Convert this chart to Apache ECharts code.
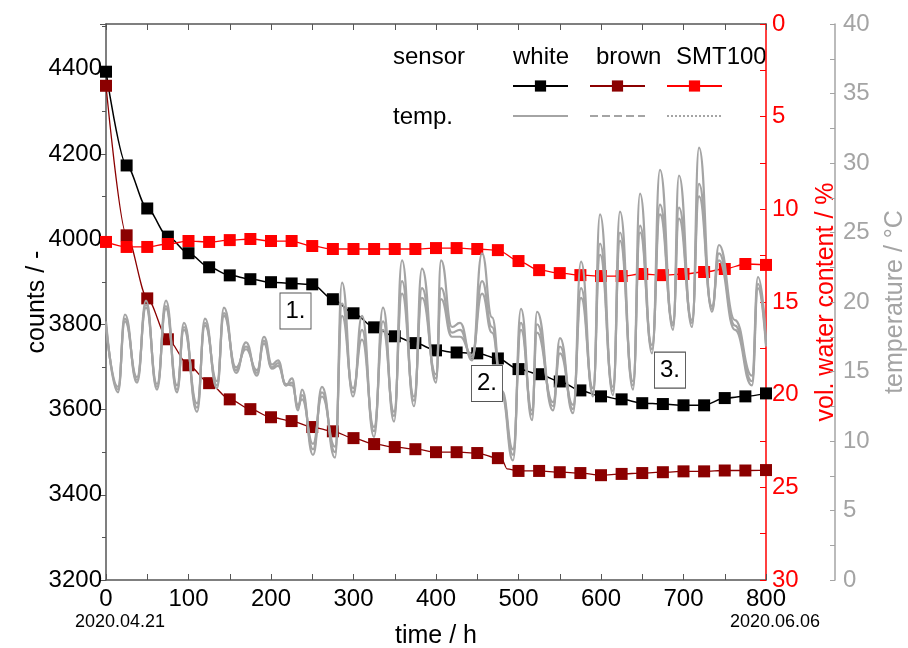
<!DOCTYPE html>
<html>
<head>
<meta charset="utf-8">
<title>sensor counts</title>
<script src="https://cdn.jsdelivr.net/npm/echarts@6/dist/echarts.min.js"></script>
<style>
  html, body { margin: 0; padding: 0; background: #fff; }
  #chart { width: 908px; height: 648px; }
</style>
</head>
<body>
<div id="chart"></div>
<script>
  // readings every 25 h (markers)
  const hours = [0, 25, 50, 75, 100, 125, 150, 175, 200, 225, 250, 275, 300, 325, 350, 375, 400,
                 425, 450, 475, 500, 525, 550, 575, 600, 625, 650, 675, 700, 725, 750, 775, 800];
  const whiteCounts = [4393, 4173, 4072, 4006, 3967, 3934, 3915, 3906, 3899, 3896, 3894, 3859, 3826,
                       3793, 3772, 3756, 3739, 3734, 3732, 3720, 3695, 3683, 3666, 3645, 3631, 3624,
                       3615, 3613, 3610, 3610, 3627, 3631, 3638];
  const brownCounts = [4360, 4009, 3861, 3765, 3704, 3662, 3624, 3601, 3582, 3573, 3559, 3549, 3533,
                       3519, 3512, 3507, 3500, 3500, 3498, 3486, 3456, 3456, 3453, 3451, 3446, 3449,
                       3451, 3453, 3455, 3455, 3457, 3457, 3458];
  const smtVwc = [11.76, 12.03, 12.03, 11.87, 11.71, 11.76, 11.66, 11.60, 11.71, 11.71, 11.98, 12.14,
                  12.14, 12.14, 12.14, 12.14, 12.09, 12.09, 12.14, 12.2, 12.79, 13.28, 13.44, 13.55,
                  13.6, 13.6, 13.49, 13.55, 13.49, 13.38, 13.22, 12.95, 13.0];
  // brown sensor step between markers
  const brownStepHours = [480, 486];
  const brownStepCounts = [3483, 3461];

  // temperature turning points
  const tempHours = [0, 14.5, 23, 37.6, 48.5, 61.8, 72.7, 86.1, 94.5, 110.3, 120, 134.5, 143, 157.6,
                     169.7, 183, 191.5, 201.2, 208.5, 218.2, 225.5, 232.7, 237.6, 250.9, 261.8, 277.6,
                     286.1, 299.4, 310.3, 324.8, 335.8, 349.1, 358.8, 373.3, 383, 400, 406.1, 419.4,
                     429.1, 443.6, 455.8, 467.9, 480, 493.3, 503, 516.4, 522.4, 541.8, 550.3, 566.1,
                     575.8, 590.3, 598.8, 614.5, 623, 638.8, 647.3, 661.8, 671.5, 687.3, 694.5, 710.3,
                     718.8, 734.5, 743, 762.4, 783, 790.3, 800];
  const tempWhite = [18.6, 13.5, 19.1, 14.2, 20.1, 13.7, 20.1, 13.5, 18.5, 12.1, 18.8, 13.8, 19.6, 14.9,
                     17.1, 14.7, 17.5, 15.5, 15.8, 14.0, 14.5, 12.2, 13.7, 9.0, 13.9, 8.8, 21.4, 13.2,
                     19.0, 10.3, 19.6, 11.4, 23.0, 12.5, 22.4, 14.2, 23.0, 18.2, 18.5, 15.8, 23.5, 18.9,
                     13.2, 8.6, 19.5, 11.5, 19.3, 12.2, 17.4, 12.0, 22.9, 13.2, 26.3, 13.3, 26.5, 13.7,
                     27.8, 16.3, 29.5, 18.0, 29.1, 18.2, 31.1, 19.3, 24.1, 18.7, 14.7, 21.8, 17.3];
  const tempBrown = [18.4, 13.7, 18.8, 14.4, 19.8, 13.9, 19.7, 13.7, 18.2, 12.4, 18.5, 14.0, 19.2, 15.1,
                     16.8, 14.9, 17.2, 15.3, 15.6, 14.0, 14.2, 12.4, 13.3, 9.4, 13.5, 9.2, 19.9, 13.5,
                     18.0, 10.7, 18.6, 11.8, 21.5, 12.9, 21.0, 14.5, 21.0, 17.8, 18.0, 16.0, 21.5, 18.2,
                     13.4, 9.0, 18.5, 11.9, 18.4, 12.5, 16.8, 12.3, 21.0, 13.5, 24.2, 13.6, 25.0, 14.0,
                     25.5, 16.6, 27.0, 18.3, 26.8, 18.5, 28.5, 19.5, 23.5, 18.3, 14.3, 21.3, 17.0];
  const tempSmt = [18.2, 13.9, 18.6, 14.6, 19.6, 14.1, 19.5, 14.0, 18.0, 12.7, 18.3, 14.3, 19.0, 15.3,
                   16.6, 15.1, 17.0, 15.2, 15.4, 14.1, 14.0, 12.6, 13.0, 9.8, 13.2, 9.6, 19.0, 13.8,
                   17.3, 11.0, 18.0, 12.1, 20.6, 13.2, 20.3, 14.8, 20.2, 17.5, 17.5, 16.2, 20.6, 17.8,
                   13.6, 9.4, 18.0, 12.2, 17.8, 12.8, 16.3, 12.6, 20.3, 13.8, 23.4, 13.9, 24.4, 14.3,
                   25.0, 16.9, 26.3, 18.5, 26.0, 18.7, 27.6, 19.7, 23.0, 18.0, 14.0, 21.0, 16.8];

  const dateLabels = ['2020.04.21', '2020.06.06'];
  const notes = ['1.', '2.', '3.'];

  const font = 'Liberation Sans, Arial, sans-serif';
  const axisGrey = '#555';
  const tempGrey = '#a4a4a4';

  function pairs(xs, ys) {
    return xs.map((t, i) => [t, ys[i]]);
  }

  const brownData = pairs(hours, brownCounts);
  brownStepHours.forEach((t, i) => {
    brownData.push({ value: [t, brownStepCounts[i]], symbol: 'none' });
  });
  brownData.sort((a, b) => (a.value || a)[0] - (b.value || b)[0]);

  const chart = echarts.init(document.getElementById('chart'));

  const option = {
    animation: false,
    backgroundColor: '#fff',
    textStyle: { fontFamily: font },
    grid: { left: 106, right: 142, top: 24, bottom: 68, outerBoundsMode: 'none', containLabel: false },
    legend: [
      {
        data: ['white', 'brown', 'SMT100'],
        left: 512, top: 79, padding: 0,
        itemWidth: 55, itemHeight: 14, itemGap: 20,
        selectedMode: false,
        formatter: () => ''
      },
      {
        data: [
          { name: 'white temp', lineStyle: { type: 'solid' }, itemStyle: { opacity: 0 } },
          { name: 'brown temp', lineStyle: { type: 'dashed' }, itemStyle: { opacity: 0 } },
          { name: 'SMT100 temp', lineStyle: { type: 'dotted' }, itemStyle: { opacity: 0 } }
        ],
        left: 512, top: 109, padding: 0,
        itemWidth: 55, itemHeight: 14, itemGap: 20,
        selectedMode: false,
        formatter: () => ''
      }
    ],
    graphic: [
      { type: 'text', left: 393, top: 45, style: { text: 'sensor', font: '24px ' + font, fill: '#000' } },
      { type: 'text', left: 513, top: 45, style: { text: 'white', font: '24px ' + font, fill: '#000' } },
      { type: 'text', left: 596, top: 45, style: { text: 'brown', font: '24px ' + font, fill: '#000' } },
      { type: 'text', left: 676, top: 45, style: { text: 'SMT100', font: '24px ' + font, fill: '#000' } },
      { type: 'text', left: 393, top: 105, style: { text: 'temp.', font: '24px ' + font, fill: '#000' } }
    ],
    xAxis: [
      {
        type: 'value', min: 0, max: 800, interval: 100, position: 'bottom',
        axisLine: { show: true, onZero: false, lineStyle: { color: axisGrey, width: 1.5 } },
        axisTick: { show: true, inside: true, length: 6, lineStyle: { color: axisGrey } },
        minorTick: { show: true, splitNumber: 2, length: 6, lineStyle: { color: axisGrey } },
        splitLine: { show: false },
        axisLabel: {
          color: '#000', fontSize: 24, margin: 6, lineHeight: 26,
          formatter: v => {
            if (v === 0) return '0\n{d0|' + dateLabels[0] + '}';
            if (v === 800) return '800\n{d8|' + dateLabels[1] + '}';
            return String(v);
          },
          rich: {
            d0: { fontSize: 18, lineHeight: 20, color: '#000', padding: [0, 0, 0, 28] },
            d8: { fontSize: 18, lineHeight: 20, color: '#000', padding: [0, 0, 0, 18] }
          }
        },
        name: 'time / h', nameLocation: 'middle', nameGap: 44, nameMoveOverlap: false,
        nameTextStyle: { color: '#000', fontSize: 25 }
      },
      {
        type: 'value', min: 0, max: 800, interval: 100, position: 'top',
        axisLine: { show: true, onZero: false, lineStyle: { color: axisGrey, width: 1.5 } },
        axisTick: { show: true, inside: true, length: 6, lineStyle: { color: axisGrey } },
        minorTick: { show: true, splitNumber: 2, length: 6, lineStyle: { color: axisGrey } },
        splitLine: { show: false },
        axisLabel: { show: false }
      }
    ],
    yAxis: [
      {
        type: 'value', position: 'left', min: 3200, max: 4505, interval: 200,
        axisLine: { show: true, onZero: false, lineStyle: { color: axisGrey, width: 1.5 } },
        axisTick: { show: true, length: 6, lineStyle: { color: axisGrey } },
        minorTick: { show: true, splitNumber: 2, length: 4, lineStyle: { color: axisGrey } },
        splitLine: { show: false },
        axisLabel: { color: '#000', fontSize: 24, margin: 4, formatter: v => (v % 200 === 0 ? String(v) : '') },
        name: 'counts / -', nameLocation: 'middle', nameGap: 56, nameMoveOverlap: false,
        nameTextStyle: { color: '#000', fontSize: 25 }
      },
      {
        type: 'value', position: 'right', min: 0, max: 30, interval: 5, inverse: true,
        axisLine: { show: true, onZero: false, lineStyle: { color: '#ff0000', width: 1.5 } },
        axisTick: { show: true, inside: true, length: 6, lineStyle: { color: '#ff0000' } },
        minorTick: { show: true, splitNumber: 2, length: 6, lineStyle: { color: '#ff0000' } },
        splitLine: { show: false },
        axisLabel: { color: '#ff0000', fontSize: 24, margin: 6 },
        name: 'vol. water content / %', nameLocation: 'middle', nameGap: 48, nameMoveOverlap: false,
        nameTextStyle: { color: '#ff0000', fontSize: 25 }
      },
      {
        type: 'value', position: 'right', offset: 69, min: 0, max: 40, interval: 5,
        axisLine: { show: true, onZero: false, lineStyle: { color: tempGrey, width: 1.5 } },
        axisTick: { show: true, inside: true, length: 5, lineStyle: { color: tempGrey } },
        minorTick: { show: true, splitNumber: 2, length: 5, lineStyle: { color: tempGrey } },
        splitLine: { show: false },
        axisLabel: { color: tempGrey, fontSize: 24, margin: 8 },
        name: 'temperature / °C', nameLocation: 'middle', nameGap: 48, nameMoveOverlap: false,
        nameTextStyle: { color: tempGrey, fontSize: 25 }
      }
    ],
    series: [
      {
        name: 'white', type: 'line', xAxisIndex: 0, yAxisIndex: 0, z: 2,
        data: pairs(hours, whiteCounts),
        smooth: 0.3, smoothMonotone: 'x',
        symbol: 'rect', symbolSize: 12,
        lineStyle: { color: '#000', width: 1.5 },
        itemStyle: { color: '#000' }
      },
      {
        name: 'brown', type: 'line', xAxisIndex: 0, yAxisIndex: 0, z: 2,
        data: brownData,
        smooth: 0.3, smoothMonotone: 'x',
        symbol: 'rect', symbolSize: 12,
        lineStyle: { color: '#8b0000', width: 1.3 },
        itemStyle: { color: '#8b0000' }
      },
      {
        name: 'SMT100', type: 'line', xAxisIndex: 0, yAxisIndex: 1, z: 2,
        data: pairs(hours, smtVwc),
        smooth: 0.3, smoothMonotone: 'x',
        symbol: 'rect', symbolSize: 12,
        lineStyle: { color: '#ff0000', width: 1.3 },
        itemStyle: { color: '#ff0000' }
      },
      {
        name: 'SMT100 temp', type: 'line', xAxisIndex: 0, yAxisIndex: 2, z: 3,
        data: pairs(tempHours, tempSmt),
        smooth: 0.5, smoothMonotone: 'x', symbol: 'none',
        lineStyle: { color: tempGrey, width: 2.2 },
        itemStyle: { color: tempGrey }
      },
      {
        name: 'brown temp', type: 'line', xAxisIndex: 0, yAxisIndex: 2, z: 3,
        data: pairs(tempHours, tempBrown),
        smooth: 0.5, smoothMonotone: 'x', symbol: 'none',
        lineStyle: { color: tempGrey, width: 2.2 },
        itemStyle: { color: tempGrey }
      },
      {
        name: 'white temp', type: 'line', xAxisIndex: 0, yAxisIndex: 2, z: 3,
        data: pairs(tempHours, tempWhite),
        smooth: 0.5, smoothMonotone: 'x', symbol: 'none',
        lineStyle: { color: tempGrey, width: 2.2 },
        itemStyle: { color: tempGrey },
        markPoint: {
          silent: true,
          symbol: 'rect', symbolSize: [31, 36],
          itemStyle: { color: '#fff', borderColor: axisGrey, borderWidth: 1 },
          label: { show: true, color: '#000', fontSize: 24, formatter: p => p.name },
          data: [
            { name: notes[0], coord: [229.7, 19.35] },
            { name: notes[1], coord: [461.8, 14.14] },
            { name: notes[2], coord: [683.6, 15.1] }
          ]
        }
      }
    ]
  };

  chart.setOption(option);
</script>
</body>
</html>
